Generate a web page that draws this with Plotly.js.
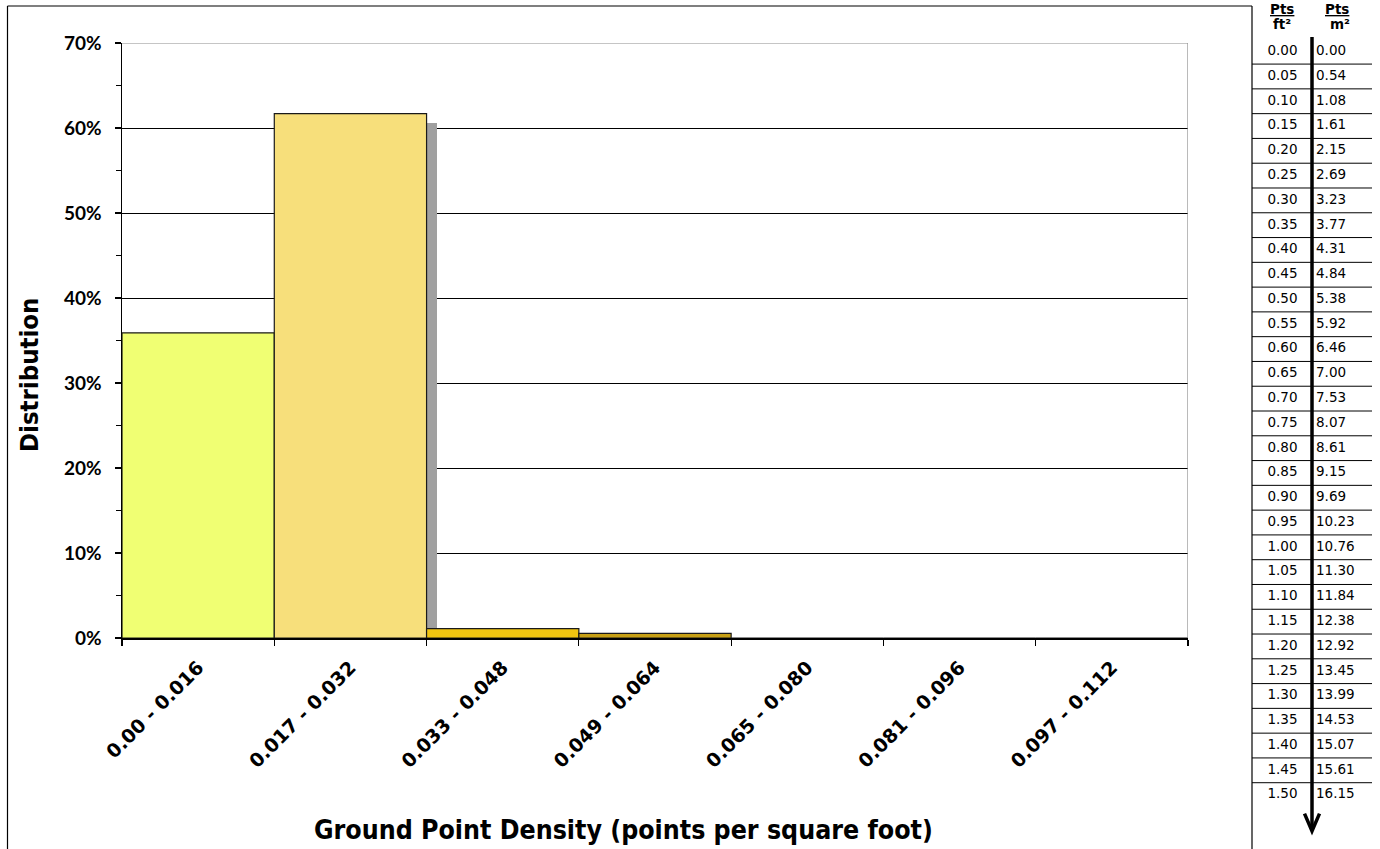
<!DOCTYPE html>
<html>
<head>
<meta charset="utf-8">
<script src="https://cdn.plot.ly/plotly-3.0.1.min.js"></script>
<style>html,body{margin:0;padding:0;background:#fff}#chart{width:1380px;height:849px}</style>
</head>
<body>
<div id="chart"></div>
<script>
// ---- data ----
const categories = ["0.00 - 0.016", "0.017 - 0.032", "0.033 - 0.048", "0.049 - 0.064", "0.065 - 0.080", "0.081 - 0.096", "0.097 - 0.112"];
const distribution = [35.9, 61.7, 1.1, 0.55, 0, 0, 0];
const barColors = ["#F0FF73", "#F7DF7B", "#F0C410", "#C8A014", "#C8A014", "#C8A014", "#C8A014"];
const yTicks = [0, 10, 20, 30, 40, 50, 60, 70];
const ptsPerFt2 = ["0.00","0.05","0.10","0.15","0.20","0.25","0.30","0.35","0.40","0.45","0.50","0.55","0.60","0.65","0.70","0.75","0.80","0.85","0.90","0.95","1.00","1.05","1.10","1.15","1.20","1.25","1.30","1.35","1.40","1.45","1.50"];
const ptsPerM2 = ["0.00","0.54","1.08","1.61","2.15","2.69","3.23","3.77","4.31","4.84","5.38","5.92","6.46","7.00","7.53","8.07","8.61","9.15","9.69","10.23","10.76","11.30","11.84","12.38","12.92","13.45","13.99","14.53","15.07","15.61","16.15"];

// ---- geometry (pixels) ----
const W = 1380, H = 849;
const plotL = 122, plotR = 1188, plotT = 43, plotB = 638;
const catPx = (plotR - plotL) / categories.length;
const pxPerPct = (plotB - plotT) / 70;
const shadowDx = 10, shadowDy = 9;
const rowTop = 51.7, rowH = 24.78; // table row pitch
const pxToRow = p => (p - rowTop) / rowH;
const colFt = 1282.5, colM2 = 1316, divX = 1312, tblL = 1252, tblR = 1372;

const rows = ptsPerFt2.map((_, i) => i);
const titleFamily = "'DejaVu Sans Condensed', 'DejaVu Sans', sans-serif";
const tickFont = {family: "Lato, 'DejaVu Sans', sans-serif", size: 19, color: "#000", weight: "bold"};
const cellFont = {family: "'DejaVu Sans', sans-serif", size: 13.5, color: "#000"};

const traces = [
  // drop shadow behind the tallest bar
  {
    type: "bar", x: [categories[1]], y: [distribution[1] - shadowDy / pxPerPct],
    width: 1, offset: -0.5 + shadowDx / catPx,
    marker: {color: "#A0A0A0", line: {width: 0}}, hoverinfo: "skip", showlegend: false
  },
  {
    type: "bar", x: categories, y: distribution, width: 1,
    marker: {color: barColors, line: {color: "#1a1a1a", width: 1.2}},
    showlegend: false, hoverinfo: "skip"
  },
  {
    type: "scatter", mode: "text", xaxis: "x2", yaxis: "y2",
    x: rows.map(() => colFt), y: rows, text: ptsPerFt2, textposition: "middle center",
    textfont: cellFont, showlegend: false, hoverinfo: "skip"
  },
  {
    type: "scatter", mode: "text", xaxis: "x2", yaxis: "y2",
    x: rows.map(() => colM2), y: rows, text: ptsPerM2, textposition: "middle right",
    textfont: cellFont, showlegend: false, hoverinfo: "skip"
  }
];

const shapes = [
  // outer frame
  {type: "line", xref: "paper", yref: "paper", x0: 7.5 / W, x1: tblL / W, y0: 1 - 6 / H, y1: 1 - 6 / H, line: {color: "#000", width: 1.2}},
  {type: "line", xref: "paper", yref: "paper", x0: 7.5 / W, x1: 7.5 / W, y0: 1 - 6 / H, y1: -0.01, line: {color: "#000", width: 1.2}},
  {type: "line", xref: "paper", yref: "paper", x0: tblL / W, x1: tblL / W, y0: 1 - 6 / H, y1: -0.01, line: {color: "#000", width: 1.2}},
  // plot-area top and right borders (gray)
  {type: "line", xref: "x", yref: "y", x0: -0.5, x1: categories.length - 0.5, y0: 70, y1: 70, line: {color: "#8c8c8c", width: 1.2}},
  {type: "line", xref: "x", yref: "y", x0: categories.length - 0.5, x1: categories.length - 0.5, y0: 0, y1: 70, line: {color: "#8c8c8c", width: 1.2}},
];
// table row separators
for (let i = 0; i < rows.length - 1; i++) {
  shapes.push({type: "line", xref: "x2", yref: "y2", x0: tblL, x1: tblR, y0: i + 0.5, y1: i + 0.5, line: {color: "#000", width: 1}});
}
// thick arrow between the two columns
const arrowTip = pxToRow(831);
shapes.push({type: "line", xref: "x2", yref: "y2", x0: divX, x1: divX, y0: pxToRow(37), y1: arrowTip - 0.05, line: {color: "#000", width: 3.5}});
shapes.push({type: "path", xref: "x2", yref: "y2",
  path: `M ${divX - 7.5} ${arrowTip - 0.7} L ${divX} ${arrowTip} L ${divX + 7.5} ${arrowTip - 0.7}`,
  line: {color: "#000", width: 3.5}});

const hdrFont = {family: "'DejaVu Sans', sans-serif", size: 13.5, color: "#000"};
const annotations = [
  {xref: "paper", yref: "paper", x: 29 / W, y: 1 - 375 / H, text: "<b>Distribution</b>", textangle: -90, showarrow: false,
   font: {family: titleFamily, size: 25.5, color: "#000"}, xanchor: "center", yanchor: "middle"},
  {xref: "paper", yref: "paper", x: 623 / W, y: 1 - 829 / H, text: "<b>Ground Point Density (points per square foot)</b>", showarrow: false,
   font: {family: titleFamily, size: 26.5, color: "#000"}, xanchor: "center", yanchor: "middle"},
  {xref: "x2", yref: "y2", x: 1282, y: pxToRow(8.5), text: "<b><u>Pts</u></b>", showarrow: false, font: hdrFont},
  {xref: "x2", yref: "y2", x: 1337, y: pxToRow(8.5), text: "<b><u>Pts</u></b>", showarrow: false, font: hdrFont},
  {xref: "x2", yref: "y2", x: 1282, y: pxToRow(24), text: "<b>ft²</b>", showarrow: false, font: hdrFont},
  {xref: "x2", yref: "y2", x: 1340, y: pxToRow(24), text: "<b>m²</b>", showarrow: false, font: hdrFont}
];

const layout = {
  width: W, height: H,
  margin: {l: 0, r: 0, t: 0, b: 0},
  paper_bgcolor: "#fff", plot_bgcolor: "rgba(0,0,0,0)",
  barmode: "overlay", bargap: 0,
  showlegend: false, hovermode: false,
  xaxis: {
    domain: [plotL / W, plotR / W], anchor: "y", type: "category",
    categoryorder: "array", categoryarray: categories,
    range: [-0.5, categories.length - 0.5],
    tickangle: -45, tickson: "boundaries", ticks: "outside", ticklen: 6, tickcolor: "#000", tickwidth: 1.2,
    showline: true, linecolor: "#000", linewidth: 2, showgrid: false, zeroline: false,
    tickfont: {family: "'DejaVu Sans', sans-serif", size: 19, color: "#000", weight: "bold"},
    ticklabelstandoff: 9, automargin: false, fixedrange: true
  },
  yaxis: {
    domain: [1 - plotB / H, 1 - plotT / H], anchor: "x",
    range: [0, 70], tickvals: yTicks, ticktext: yTicks.map(v => v + "%"),
    ticks: "outside", ticklen: 6, tickcolor: "#000", tickwidth: 1.2,
    minor: {dtick: 5, tick0: 0, ticks: "outside", ticklen: 5, tickcolor: "#000", tickwidth: 1.2, showgrid: false},
    showline: true, linecolor: "#000", linewidth: 1.5,
    showgrid: true, gridcolor: "#000", gridwidth: 1, zeroline: false,
    tickfont: tickFont, ticklabelstandoff: 9, automargin: false, fixedrange: true
  },
  xaxis2: {domain: [0, 1], anchor: "y2", range: [0, W], visible: false, fixedrange: true},
  yaxis2: {domain: [0, 1], anchor: "x2", range: [pxToRow(H), pxToRow(0)], visible: false, fixedrange: true},
  shapes: shapes,
  annotations: annotations
};

Plotly.newPlot("chart", traces, layout, {displayModeBar: false, staticPlot: true});
</script>
</body>
</html>
